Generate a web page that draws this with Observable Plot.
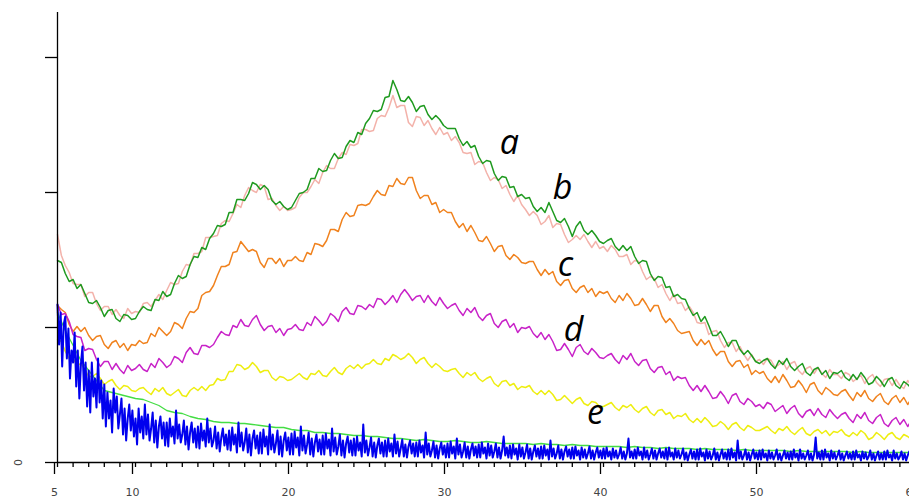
<!DOCTYPE html>
<html><head><meta charset="utf-8">
<script src="https://cdn.jsdelivr.net/npm/d3@7"></script>
<script src="https://cdn.jsdelivr.net/npm/@observablehq/plot@0.6"></script>
<style>body{margin:0;background:#fff;} #chart svg{display:block}</style>
</head><body><div id="chart"></div>
<script>
// 2θ sampling grids (degrees)
const twoThetaFine = d3.range(20, 241).map(i => i / 4);   // 5 .. 60, step 0.25
const twoThetaCoarse = d3.range(10, 121).map(i => i / 2); // 5 .. 60, step 0.5
const twoThetaBlue = d3.range(50, 601).map(i => i / 10);  // 5 .. 60, step 0.1

// intensities (a.u.), rows of 5 degrees
const seriesA = [
202,200,189,181,183,174,178,169,160,159,162,155,146,152,153,144,141,148,147,143,
144,151,156,153,152,163,162,171,166,168,179,187,184,186,198,206,205,215,213,224,
229,237,236,238,250,250,263,263,262,269,280,278,273,277,273,262,258,261,256,253,
255,262,269,270,273,284,284,294,291,292,302,309,304,305,316,322,320,330,328,339,
344,352,351,353,365,366,382,373,362,361,366,360,351,356,357,348,343,347,343,337,
334,334,334,324,317,321,315,317,306,299,302,301,289,282,286,285,275,276,266,268,
264,265,256,251,255,250,260,251,242,240,244,236,226,236,241,232,228,232,227,221,
219,222,224,216,212,217,212,216,206,199,202,201,189,182,186,185,175,176,166,168,
164,163,154,147,150,141,146,137,127,127,131,124,116,122,122,113,108,112,107,101,
99,102,104,98,94,102,98,104,96,92,96,99,90,87,93,95,88,92,84,90,
89,92,85,82,88,83,90,85,78,80,86,82,76,83,85,77,74,81,78,74,
76];
const seriesB = [
228,207,197,190,179,178,178,166,170,170,159,152,156,156,148,153,147,144,154,149,
151,150,159,160,156,162,168,163,172,180,178,179,191,198,197,209,209,211,225,225,
226,227,239,242,241,249,258,255,267,275,272,270,278,276,263,264,257,252,256,252,
253,255,265,270,270,276,283,279,290,297,294,294,304,310,308,318,317,319,333,333,
331,332,344,347,346,355,367,355,357,357,340,336,346,345,337,342,334,328,335,328,
330,322,326,320,310,309,310,298,301,300,290,282,285,283,274,277,268,261,267,258,
253,247,251,247,238,241,247,235,239,238,228,220,223,227,223,228,221,215,221,214,
216,211,217,213,206,206,208,198,202,201,191,183,186,184,175,178,169,162,168,159,
160,152,156,150,140,139,140,128,131,132,122,115,120,120,111,116,108,102,108,101,
103,98,104,102,95,98,101,93,99,101,92,88,94,96,89,95,89,85,93,88,
88,84,90,88,81,84,87,79,85,88,80,76,83,84,77,83,77,74,82,77,
77];
const seriesC = [
157,153,150,138,131,136,131,135,127,122,126,127,118,114,120,122,115,119,112,118,
117,122,119,120,129,126,135,131,127,131,140,138,134,144,151,150,154,167,170,171,
177,187,196,196,198,210,211,221,216,211,213,211,200,195,204,204,199,204,196,202,
202,206,202,201,210,208,219,218,216,222,233,233,231,243,250,246,247,257,258,257,
259,266,272,268,267,277,276,284,279,278,285,285,272,264,267,267,258,260,250,253,
250,250,241,235,239,231,237,230,222,221,226,219,211,216,217,207,203,208,205,200,
199,201,201,193,187,193,188,191,181,177,182,183,174,170,175,177,170,174,166,171,
169,171,164,160,167,162,169,164,157,158,164,158,151,157,157,146,140,144,139,132,
129,130,131,122,117,123,118,122,113,107,111,111,101,96,101,102,95,98,88,92,
89,91,84,80,86,80,88,82,75,76,82,77,70,78,80,72,68,75,72,68,
67,71,73,67,62,70,66,72,64,61,66,69,61,58,64,67,60,65,58,64,
61];
const seriesD = [
158,148,149,141,128,126,125,112,114,113,103,96,101,101,93,99,93,89,97,92,
94,98,93,91,99,95,104,100,95,98,106,104,100,110,115,109,108,117,117,115,
118,125,131,128,127,137,135,143,137,136,143,147,138,132,136,137,130,134,127,133,
134,138,133,132,140,137,146,142,137,141,149,146,141,151,155,149,148,157,156,153,
158,155,164,163,158,162,167,160,168,173,168,162,166,167,160,167,161,157,165,159,
154,157,159,152,147,154,150,155,146,142,147,149,139,135,141,143,135,139,130,135,
134,136,129,125,130,123,128,121,112,113,119,113,106,115,118,111,108,114,110,105,
104,107,109,103,99,107,103,109,101,97,102,103,94,90,95,96,88,91,82,86,
84,85,77,72,77,71,77,71,64,65,71,66,59,67,69,61,58,64,61,56,
58,54,60,58,51,54,57,49,54,57,49,45,51,53,47,54,48,45,53,48,
44,48,50,44,40,48,44,50,42,39,45,48,39,36,42,45,38,43,36,42,
39];
const seriesE = [
123,121,111,104,104,97,99,93,86,86,89,84,78,81,83,77,73,77,76,72,
71,74,75,71,68,74,71,75,69,67,70,73,67,66,72,75,72,76,72,77,
78,84,82,83,91,91,98,97,93,95,100,96,90,92,92,85,82,86,85,82,
83,86,89,85,83,89,88,92,87,86,91,95,90,88,94,97,94,98,94,98,
99,103,99,98,104,102,108,106,103,105,109,105,99,103,105,99,95,99,96,92,
91,93,94,89,85,90,87,90,84,81,84,86,79,76,81,82,77,79,73,76,
75,77,71,68,72,68,72,68,62,63,67,63,59,63,65,59,57,61,60,56,
56,58,60,55,52,57,55,58,53,50,54,56,50,47,52,53,48,50,44,47,
46,49,43,40,44,40,45,41,36,37,41,38,33,38,40,35,32,37,35,32,
32,34,36,32,29,34,32,36,31,28,32,35,29,27,31,33,29,32,27,31,
30,33,28,26,30,27,32,29,23,25,30,27,23,28,30,25,23,28,26,23,
25];
const seriesF = [
150,132,117,102,92,82,72,70,68,66,
64,63,60,57,52,50,49,46,44,43,
41,40,40,39,39,38,37,36,35,35,
33,32,32,30,30,29,29,28,27,27,
26,26,25,24,24,23,22,23,22,21,
21,22,21,20,20,21,20,19,19,19,
19,18,19,18,18,17,18,17,17,16,
16,16,16,15,16,15,15,14,15,14,
14,14,13,14,13,13,13,12,13,12,
12,12,12,12,11,12,11,11,11,11,
11,11,10,11,10,10,10,10,10,10,
10];
const seriesBlue = [
158,118,150,96,138,146,104,134,84,112,
100,130,76,112,64,98,116,72,100,56,
92,50,100,66,84,55,104,60,82,44,
78,36,70,44,62,30,74,50,66,34,
48,64,28,54,22,44,58,32,52,26,
44,18,54,30,46,24,58,28,48,22,
34,50,20,42,15,36,46,24,40,17,
40,16,44,26,36,19,52,24,38,20,
28,42,18,36,13,30,40,20,34,15,
36,14,39,22,32,16,44,20,34,16,
22,36,14,30,11,25,34,17,28,13,
32,12,35,18,28,10,40,16,30,12,
20,34,10,28,7,24,32,14,27,9,
30,9,33,16,26,8,38,13,28,10,
19,32,8,26,6,22,30,12,25,8,
29,8,31,15,25,7,36,12,27,9,
18,30,8,24,6,20,28,11,23,8,
27,8,29,14,23,7,34,11,25,8,
16,28,7,22,5,19,26,10,22,7,
24,7,26,12,20,6,38,10,22,7,
15,25,6,20,5,17,24,9,20,6,
22,6,24,11,19,6,28,9,21,6,
14,23,6,18,5,16,22,9,19,6,
20,6,22,10,17,5,30,8,19,6,
12,21,5,17,4,14,20,8,17,5,
19,5,21,9,16,4,24,8,18,5,
11,20,5,16,4,13,19,7,16,5,
18,5,20,9,15,4,19,7,17,5,
11,19,5,15,4,12,26,7,15,5,
17,4,18,8,14,3,18,6,15,4,
10,18,4,14,3,11,17,6,14,4,
16,4,17,7,13,3,22,6,14,4,
9,17,4,13,3,11,16,6,13,4,
15,4,16,7,12,3,15,5,13,4,
9,16,4,12,3,10,15,5,12,4,
14,4,15,6,11,3,14,5,12,4,
8,15,4,11,3,9,24,5,11,4,
13,4,15,7,11,3,15,5,12,3,
8,14,4,12,3,9,14,5,11,4,
14,3,15,6,10,3,14,5,12,4,
8,14,3,10,2,8,13,4,11,3,
13,3,14,6,10,2,13,4,11,3,
7,14,3,10,2,8,13,4,10,3,
13,3,14,5,10,2,22,4,11,3,
7,13,3,10,2,8,13,4,10,3,
12,3,13,5,9,2,12,4,10,3,
7,13,3,9,2,7,12,4,10,3,
11,3,13,5,9,2,13,4,9,3,
7,12,3,9,2,8,25,4,10,3,
12,3,13,5,9,2,12,4,10,3,
7,12,3,9,2,7,11,4,9,3,
11,3,12,5,8,2,11,4,10,3,
6,12,3,9,2,7,11,3,9,3,
11,3,12,5,8,2,12,4,9,3,
6,11,3,9,2,7,11,4,9,3,
10];

const curveLabels = ["a", "b", "c", "d", "e"];
const curveLabelX = [33.97, 37.37, 37.56, 38.08, 39.49];
const curveLabelY = [319, 274, 197, 132, 49];
const yTicks = [0, 135, 270, 405];
const yTickLabels = ["0"];
const xMajorTicks = [5, 10, 20, 30, 40, 50, 60];
const xMinorTicks = d3.range(5, 61);

const rows = (xs, ys) => ys.map((y, i) => ({x: xs[i], y}));
const lineOpts = (stroke, w) => ({x: "x", y: "y", stroke, strokeWidth: w, curve: "linear"});

const chart = Plot.plot({
  width: 909,
  height: 501,
  marginTop: 12,
  marginBottom: 39,
  marginLeft: 57,
  marginRight: 0,
  x: {domain: [5, 60], range: [57, 915]},
  y: {domain: [0, 450]},
  style: {fontFamily: "DejaVu Sans", fontSize: "11px", background: "white", overflow: "visible"},
  marks: [
    Plot.line(rows(twoThetaFine, seriesB), lineOpts("#f3b2aa", 1.5)),
    Plot.line(rows(twoThetaFine, seriesA), lineOpts("#1f9a1f", 1.5)),
    Plot.line(rows(twoThetaFine, seriesC), lineOpts("#f0821e", 1.5)),
    Plot.line(rows(twoThetaFine, seriesD), lineOpts("#c822c8", 1.5)),
    Plot.line(rows(twoThetaFine, seriesE), lineOpts("#eeee10", 1.5)),
    Plot.line(rows(twoThetaCoarse, seriesF), lineOpts("#44dd44", 1.3)),
    Plot.line(rows(twoThetaBlue, seriesBlue), lineOpts("#0000ee", 2)),
    Plot.ruleY([0], {stroke: "black", strokeWidth: 1.3}),
    Plot.ruleX([5], {stroke: "black", strokeWidth: 1.3}),
    Plot.axisX({ticks: xMinorTicks, tickSize: 5, tickFormat: () => "", label: null, stroke: "black", strokeWidth: 1.3}),
    Plot.axisX({ticks: xMajorTicks, tickSize: 12, tickPadding: 14, label: null, stroke: "black", strokeWidth: 1.3, fill: "#444", dx: -3}),
    Plot.axisY({ticks: yTicks, tickSize: 12, tickFormat: () => "", label: null, stroke: "black", strokeWidth: 1.3}),
    Plot.axisY({ticks: [0], tickSize: 0, tickPadding: 36, tickRotate: -90, tickFormat: (d, i) => yTickLabels[i], label: null, fill: "#444"}),
    Plot.text(curveLabels, {
      x: (d, i) => curveLabelX[i],
      y: (d, i) => curveLabelY[i],
      text: d => d,
      fontFamily: "Open Sans",
      fontStyle: "italic",
      fontSize: 34,
      fill: "black"
    })
  ]
});
document.getElementById("chart").appendChild(chart);
</script>
</body></html>
